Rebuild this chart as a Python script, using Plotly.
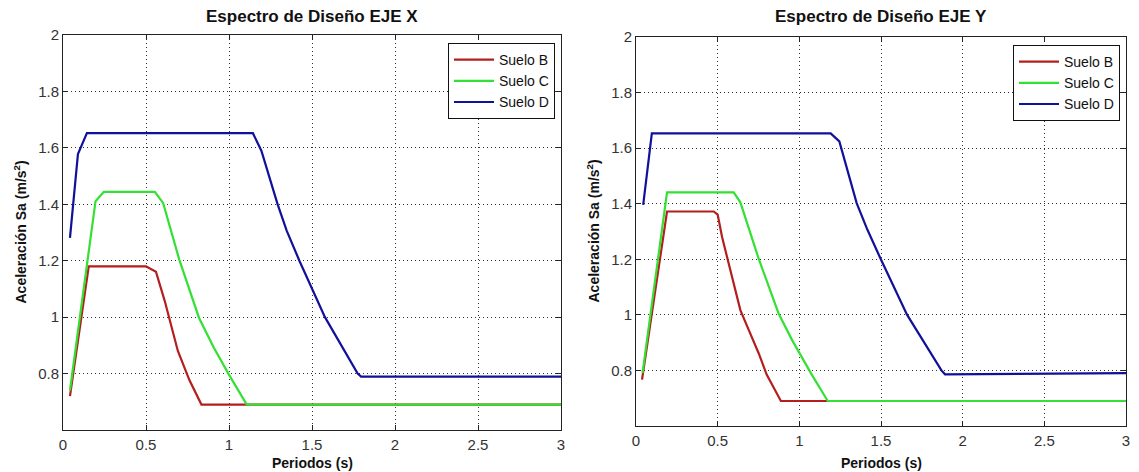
import plotly.graph_objects as go

# ---------------- data ----------------
series_names = ["Suelo B", "Suelo C", "Suelo D"]
series_colors = ["#b41e1e", "#33e033", "#10109a"]

# EJE X
T_B_X = [0.042, 0.155, 0.50, 0.56, 0.613, 0.692, 0.762, 0.834, 3.0]
Sa_B_X = [0.72, 1.18, 1.18, 1.161, 1.057, 0.88, 0.776, 0.69, 0.69]
T_C_X = [0.042, 0.196, 0.246, 0.553, 0.603, 0.648, 0.70, 0.819, 0.908, 0.998, 1.107, 3.0]
Sa_C_X = [0.74, 1.411, 1.444, 1.444, 1.405, 1.31, 1.205, 0.998, 0.892, 0.798, 0.69, 0.69]
T_D_X = [0.042, 0.09, 0.144, 1.144, 1.195, 1.293, 1.348, 1.424, 1.578, 1.775, 1.796, 3.0]
Sa_D_X = [1.281, 1.578, 1.652, 1.652, 1.59, 1.40, 1.306, 1.2, 1.0, 0.8, 0.789, 0.789]

# EJE Y
T_B_Y = [0.037, 0.19, 0.476, 0.50, 0.527, 0.584, 0.639, 0.69, 0.751, 0.80, 0.887, 3.0]
Sa_B_Y = [0.767, 1.372, 1.372, 1.361, 1.28, 1.149, 1.017, 0.946, 0.862, 0.785, 0.69, 0.69]
T_C_Y = [0.04, 0.19, 0.598, 0.639, 0.751, 0.873, 0.955, 1.076, 1.174, 3.0]
Sa_C_Y = [0.79, 1.441, 1.441, 1.405, 1.202, 1.005, 0.91, 0.785, 0.69, 0.69]
T_D_Y = [0.044, 0.097, 1.192, 1.245, 1.351, 1.417, 1.499, 1.66, 1.87, 1.892, 3.0]
Sa_D_Y = [1.396, 1.653, 1.653, 1.624, 1.402, 1.306, 1.2, 1.0, 0.8, 0.786, 0.79]

x_tickvals = [0, 0.5, 1, 1.5, 2, 2.5, 3]
x_ticktext = ["0", "0.5", "1", "1.5", "2", "2.5", "3"]
y_tickvals = [0.8, 1.0, 1.2, 1.4, 1.6, 1.8, 2.0]
y_ticktext = ["0.8", "1", "1.2", "1.4", "1.6", "1.8", "2"]

titles = ["Espectro de Diseño EJE X", "Espectro de Diseño EJE Y"]
x_title = "Periodos (s)"
y_title = "Aceleración Sa (m/s<sup>2</sup>)"

# ---------------- figure ----------------
W, H = 1139, 472
FONT = "Liberation Sans, Arial, sans-serif"

fig = go.Figure()

panels = [
    dict(xa="x", ya="y", legend="legend",
         data=[(T_B_X, Sa_B_X), (T_C_X, Sa_C_X), (T_D_X, Sa_D_X)]),
    dict(xa="x2", ya="y2", legend="legend2",
         data=[(T_B_Y, Sa_B_Y), (T_C_Y, Sa_C_Y), (T_D_Y, Sa_D_Y)]),
]

for p in panels:
    for (tx, sy), name, col in zip(p["data"], series_names, series_colors):
        fig.add_trace(go.Scatter(
            x=tx, y=sy, mode="lines", name=name,
            line=dict(color=col, width=2.2),
            xaxis=p["xa"], yaxis=p["ya"], legend=p["legend"],
            showlegend=True,
        ))

# pixel geometry of the two axes boxes
boxes = [
    dict(l=63, r=561, t=35, b=430),
    dict(l=636, r=1126, t=37, b=426),
]

def xdom(b):
    return [b["l"] / W, b["r"] / W]

def ydom(b):
    return [1 - b["b"] / H, 1 - b["t"] / H]

axis_common = dict(
    showline=True, linecolor="#222", linewidth=1, mirror="ticks",
    ticks="inside", ticklen=5, tickcolor="#222",
    showgrid=True, gridcolor="#333", gridwidth=1, griddash="1px,3px",
    zeroline=False, automargin=False,
    tickfont=dict(family=FONT, size=15, color="#333"),
)

fig.update_layout(
    width=W, height=H,
    margin=dict(l=0, r=0, t=0, b=0),
    paper_bgcolor="white", plot_bgcolor="white",
    xaxis=dict(domain=xdom(boxes[0]), range=[0, 3], tickvals=x_tickvals,
               ticktext=x_ticktext, anchor="y", ticklabelstandoff=1, **axis_common),
    yaxis=dict(domain=ydom(boxes[0]), range=[0.6, 2], tickvals=y_tickvals,
               ticktext=y_ticktext, anchor="x", **axis_common),
    xaxis2=dict(domain=xdom(boxes[1]), range=[0, 3], tickvals=x_tickvals,
                ticktext=x_ticktext, anchor="y2", ticklabelstandoff=1, **axis_common),
    yaxis2=dict(domain=ydom(boxes[1]), range=[0.6, 2], tickvals=y_tickvals,
                ticktext=y_ticktext, anchor="x2", **axis_common),
    legend=dict(x=555 / W, y=1 - 43 / H, xanchor="right", yanchor="top",
                bgcolor="white", bordercolor="#111", borderwidth=1,
                font=dict(family=FONT, size=14, color="#111"),
                tracegroupgap=0, itemwidth=40),
    legend2=dict(x=1120 / W, y=1 - 45 / H, xanchor="right", yanchor="top",
                 bgcolor="white", bordercolor="#111", borderwidth=1,
                 font=dict(family=FONT, size=14, color="#111"),
                 tracegroupgap=0, itemwidth=40),
    showlegend=True,
)

annotations = []
for b, t in zip(boxes, titles):
    cx = (b["l"] + b["r"]) / 2 / W
    annotations.append(dict(
        text=t, x=cx, y=1 - 16 / H, xref="paper", yref="paper",
        xanchor="center", yanchor="middle", showarrow=False,
        font=dict(family=FONT, size=17, color="#111", weight="bold")))
    annotations.append(dict(
        text=x_title, x=cx, y=1 - 463 / H, xref="paper", yref="paper",
        xanchor="center", yanchor="middle", showarrow=False,
        font=dict(family=FONT, size=14, color="#111", weight="bold")))
    annotations.append(dict(
        text=y_title, x=(b["l"] - 43) / W, y=1 - ((b["t"] + b["b"]) / 2) / H,
        xref="paper", yref="paper", textangle=-90,
        xanchor="center", yanchor="middle", showarrow=False,
        font=dict(family=FONT, size=14, color="#111", weight="bold")))
fig.update_layout(annotations=annotations)

fig.write_html("out.html")
